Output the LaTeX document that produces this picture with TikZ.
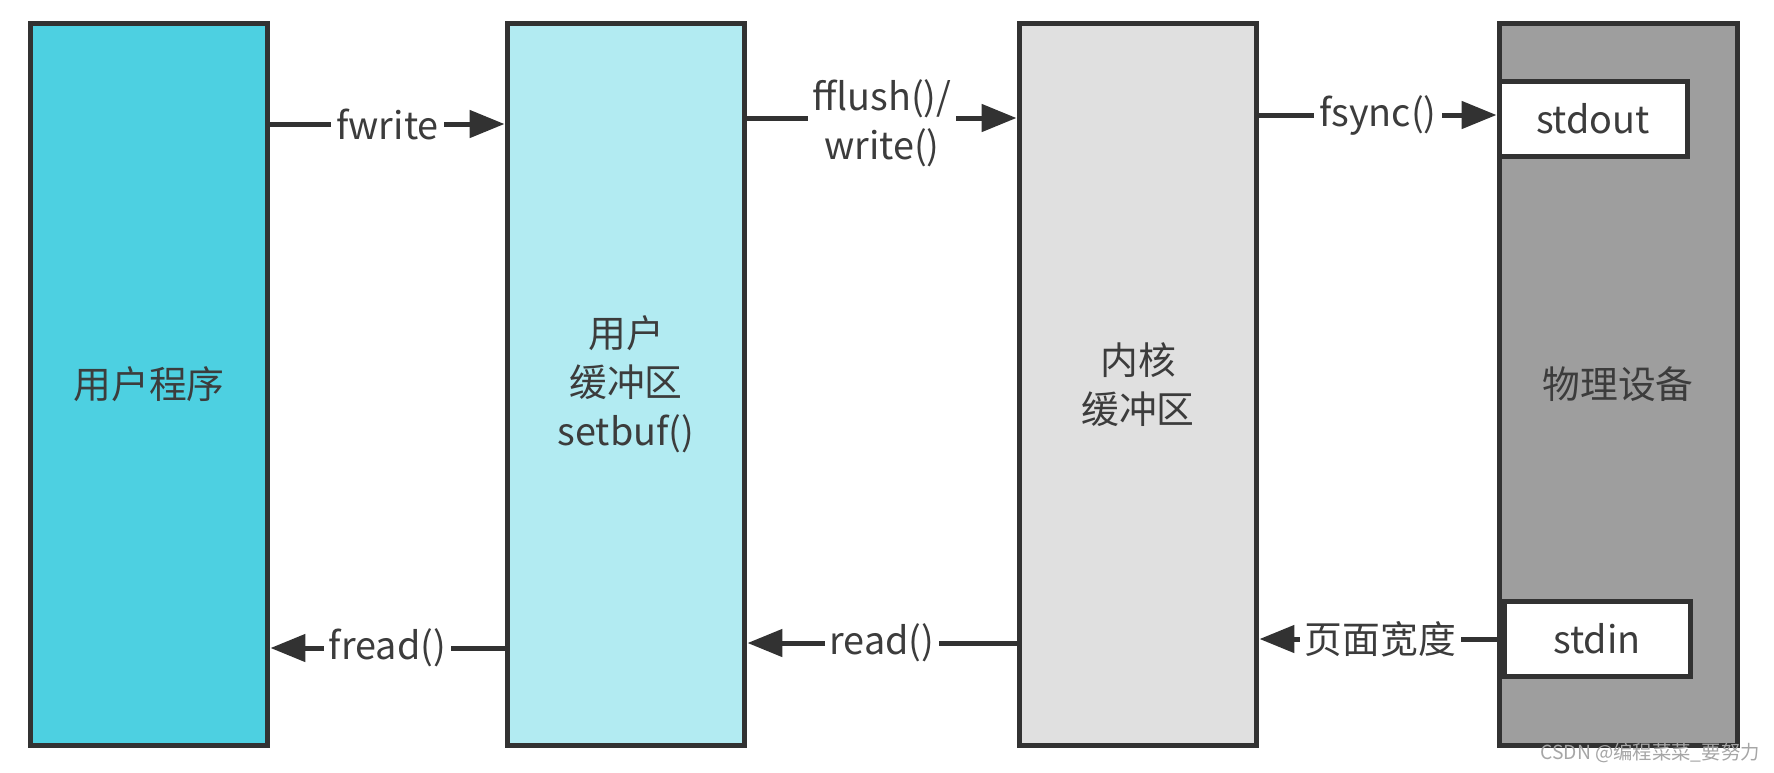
\documentclass[tikz,border=0pt]{standalone}
\usepackage{fontspec}
\setmainfont{Noto Sans CJK SC}
\usetikzlibrary{arrows.meta}
\definecolor{appblue}{HTML}{4DD0E1}
\definecolor{bufblue}{HTML}{B2EBF2}
\definecolor{kernelgray}{HTML}{E0E0E0}
\definecolor{devgray}{HTML}{9E9E9E}
\definecolor{linegray}{HTML}{323232}
\definecolor{textgray}{HTML}{3C3C3C}
\begin{document}
\begin{tikzpicture}[x=0.02cm,y=-0.02cm]

\tikzset{block/.style = {draw=linegray, line width=0.1cm, text=textgray, align=center, font=\fontsize{21.5}{28}\selectfont}}
\tikzset{flow/.style = {draw=linegray, line width=0.1cm, -{Triangle[length=0.7cm,width=0.54cm]}}}
\tikzset{lbl/.style = {fill=white, text=textgray, inner sep=0.1cm, align=center, font=\fontsize{21.5}{28}\selectfont}}
\useasboundingbox (0,0) rectangle (1774,772);
%blocks
\node[block, fill=appblue, minimum width=4.76cm, minimum height=14.46cm] (prog) at (149,384.5) {用户程序};
\node[block, fill=bufblue, minimum width=4.76cm, minimum height=14.46cm] (ubuf) at (626,384.5) {用户\\缓冲区\\setbuf()};
\node[block, fill=kernelgray, minimum width=4.76cm, minimum height=14.46cm] (kbuf) at (1138,384.5) {内核\\缓冲区};
\node[block, fill=devgray, minimum width=4.76cm, minimum height=14.46cm] (dev) at (1618,384.5) {物理设备};
%ports
\node[block, fill=white, minimum width=3.76cm, minimum height=1.5cm] (out) at (1593,119) {stdout};
\node[block, fill=white, minimum width=3.72cm, minimum height=1.5cm] (in) at (1597,639) {stdin};
%flows
\draw[flow] (prog.east |- 0,124) -- node[lbl] {fwrite} (ubuf.west |- 0,124);
\draw[flow] (ubuf.east |- 0,118) -- node[lbl, yshift=-0.1cm] {fflush()/\\write()} (kbuf.west |- 0,118);
\draw[flow] (kbuf.east |- 0,115) -- node[lbl] {fsync()} (out.west |- 0,115);
\draw[flow] (in.west) -- node[lbl] {页面宽度} (kbuf.east |- in.west);
\draw[flow] (kbuf.west |- 0,643) -- node[lbl] {read()} (ubuf.east |- 0,643);
\draw[flow] (ubuf.west |- 0,648) -- node[lbl] {fread()} (prog.east |- 0,648);
%mark
\node[text=gray!70, font=\fontsize{11}{13}\selectfont, anchor=east, inner sep=0] (mark) at (1760,753) {CSDN @编程菜菜\_要努力};

\end{tikzpicture}
\end{document}
